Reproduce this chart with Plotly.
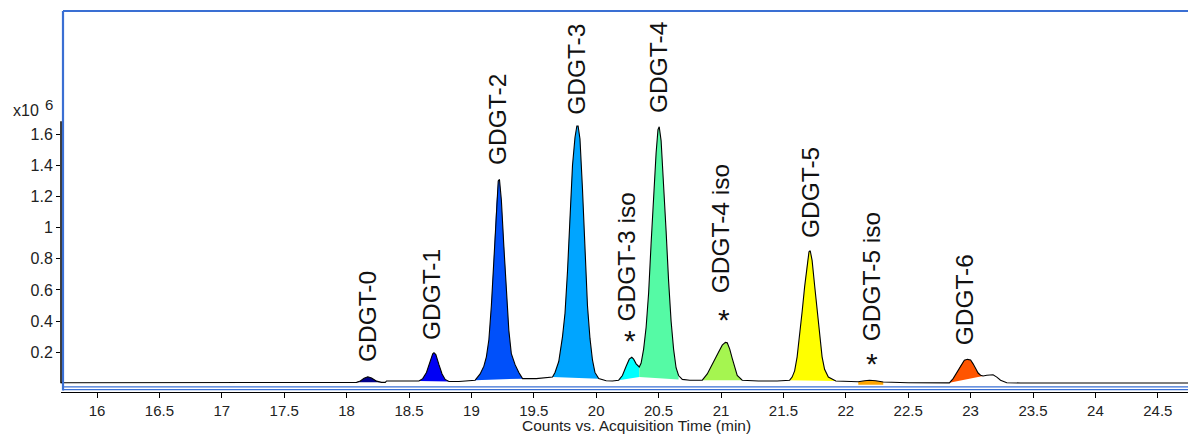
import plotly.graph_objects as go

# ---------------- data ----------------
# chromatogram trace: acquisition time (min) and counts (x10^6)
time_min = [
    15.71, 16.50, 17.50, 18.06,
    18.08, 18.11, 18.14, 18.17, 18.20, 18.24, 18.28,
    18.31, 18.32,
    18.58, 18.61, 18.64, 18.665, 18.69, 18.70, 18.715, 18.74, 18.765, 18.79, 18.82,
    18.90,
    19.03, 19.07, 19.10, 19.12, 19.14, 19.16, 19.18, 19.20, 19.215, 19.225, 19.24,
    19.26, 19.28, 19.30, 19.32, 19.35, 19.38, 19.41,
    19.52,
    19.65, 19.67, 19.70, 19.73, 19.75, 19.77, 19.79, 19.81, 19.83, 19.845, 19.855,
    19.87, 19.89, 19.91, 19.93, 19.95, 19.97, 19.99, 20.02,
    20.08, 20.13,
    20.18, 20.21, 20.24, 20.265, 20.285, 20.30, 20.32, 20.345,
    20.36, 20.38, 20.40, 20.42, 20.44, 20.46, 20.48, 20.495, 20.505, 20.52, 20.54,
    20.56, 20.58, 20.60, 20.62, 20.64, 20.66,
    20.69, 20.75,
    20.85, 20.89, 20.92, 20.95, 20.98, 21.01, 21.035, 21.05, 21.07, 21.09, 21.11,
    21.13, 21.17,
    21.30, 21.45,
    21.55, 21.57, 21.59, 21.61, 21.63, 21.65, 21.67, 21.69, 21.705, 21.715, 21.73,
    21.75, 21.77, 21.79, 21.81, 21.83, 21.86, 21.92,
    22.00,
    22.10, 22.15, 22.19, 22.24, 22.30,
    22.50,
    22.83, 22.86, 22.89, 22.92, 22.95, 22.975, 23.00, 23.02, 23.04, 23.06, 23.08, 23.10,
    23.13, 23.16, 23.18, 23.21, 23.24, 23.29, 23.40, 24.81,
]
counts_e6 = [
    0.004, 0.004, 0.004, 0.005,
    0.006, 0.015, 0.033, 0.042, 0.034, 0.014, 0.006,
    0.006, 0.015,
    0.015, 0.030, 0.070, 0.130, 0.190, 0.197, 0.185, 0.120, 0.060, 0.025, 0.012,
    0.012,
    0.020, 0.060, 0.110, 0.170, 0.280, 0.500, 0.810, 1.150, 1.300, 1.310, 1.180,
    0.880, 0.570, 0.340, 0.190, 0.120, 0.070, 0.030,
    0.030,
    0.040, 0.070, 0.140, 0.300, 0.450, 0.720, 1.080, 1.400, 1.580, 1.654, 1.654,
    1.570, 1.250, 0.850, 0.500, 0.290, 0.150, 0.070, 0.030,
    0.016, 0.015,
    0.020, 0.050, 0.110, 0.155, 0.167, 0.155, 0.125, 0.105,
    0.130, 0.220, 0.360, 0.580, 0.900, 1.220, 1.480, 1.630, 1.649, 1.560, 1.300,
    0.980, 0.660, 0.400, 0.220, 0.100, 0.050,
    0.025, 0.020,
    0.020, 0.060, 0.110, 0.160, 0.200, 0.245, 0.263, 0.260, 0.220, 0.160, 0.100,
    0.050, 0.020,
    0.015, 0.015,
    0.020, 0.040, 0.080, 0.170, 0.300, 0.460, 0.620, 0.770, 0.845, 0.852, 0.790,
    0.630, 0.460, 0.300, 0.170, 0.090, 0.040, 0.015,
    0.012,
    0.010, 0.016, 0.020, 0.016, 0.008,
    0.004,
    0.003, 0.030, 0.070, 0.115, 0.148, 0.154, 0.150, 0.125, 0.090, 0.066, 0.052, 0.047,
    0.052, 0.056, 0.055, 0.040, 0.020, 0.004, 0.002, 0.002,
]

# integrated peaks
peak_labels = ["GDGT-0", "GDGT-1", "GDGT-2", "GDGT-3", "GDGT-3 iso",
               "GDGT-4", "GDGT-4 iso", "GDGT-5", "GDGT-5 iso", "GDGT-6"]
peak_marked = [False, False, False, False, True, False, True, False, True, False]
peak_start = [18.08, 18.58, 19.03, 19.65, 20.18, 20.345, 20.85, 21.55, 22.10, 22.83]
peak_end = [18.28, 18.82, 19.41, 20.02, 20.345, 20.66, 21.17, 21.92, 22.30, 23.10]
base_start = [0.006, 0.015, 0.020, 0.040, 0.020, 0.040, 0.020, 0.020, -0.010, 0.003]
base_end = [0.006, 0.012, 0.030, 0.030, 0.040, 0.025, 0.020, 0.015, -0.010, 0.047]
peak_colors = ["#00008C", "#0000F5", "#0050FA", "#00A5FF", "#00FFFF",
               "#55FAA5", "#A5F550", "#FFFF00", "#FFA500", "#FF5500"]

x_ticks = [16, 16.5, 17, 17.5, 18, 18.5, 19, 19.5, 20, 20.5, 21, 21.5, 22, 22.5,
           23, 23.5, 24, 24.5]
y_ticks = [0.2, 0.4, 0.6, 0.8, 1.0, 1.2, 1.4, 1.6]
y_tick_text = ["0.2", "0.4", "0.6", "0.8", "1", "1.2", "1.4", "1.6"]
x_title = "Counts vs. Acquisition Time (min)"

# ---------------- label placement (pixels) ----------------
label_gap_px = [13, 11, 12.5, 9.5, 34, 11.5, 47, 10.5, 37, 12]
label_dx_px = [-1, -3, -2, 0, -5, -1, -4, 0, 2, -3]
star_gap_px = [0, 0, 0, 0, 19, 0, 25, 0, 18.5, 0]
star_dx_px = [0, 0, 0, 0, -2, 0, -1, 0, 2, 0]

# ---------------- figure geometry ----------------
BODY = 8                      # default page margin around the plot div
W, H = 1196, 434
PLOT_L, PLOT_T, PLOT_B = 61, 11, 392   # desired plot area in page pixels
ML, MT = PLOT_L - BODY, PLOT_T - BODY
MB = H - (PLOT_B - BODY)
MR = 0
PW, PH = W - ML - MR, H - MT - MB
PX_PER_MIN = 124.8
PX_PER_UNIT = 155.6
X0 = 16 - (97 - PLOT_L) / PX_PER_MIN
X_RANGE = [X0, X0 + PW / PX_PER_MIN]
ZERO_PX = 383.3
Y_RANGE = [-(PLOT_B - ZERO_PX) / PX_PER_UNIT, (ZERO_PX - PLOT_T) / PX_PER_UNIT]


def px(xp):
    return (xp - PLOT_L) / PW


def py(yp):
    return (PLOT_B - yp) / PH


FONT = "Liberation Sans, Arial, sans-serif"
BLUE = "#3A6FD3"

fig = go.Figure()

for i in range(len(peak_labels)):
    i0 = time_min.index(peak_start[i])
    i1 = time_min.index(peak_end[i])
    xs = time_min[i0:i1 + 1] + [peak_end[i], peak_start[i]]
    ys = counts_e6[i0:i1 + 1] + [base_end[i], base_start[i]]
    fig.add_trace(go.Scatter(x=xs, y=ys, mode="lines", fill="toself",
                             fillcolor=peak_colors[i], line=dict(width=0),
                             hoverinfo="skip", showlegend=False))

fig.add_trace(go.Scatter(x=time_min, y=counts_e6, mode="lines",
                         line=dict(color="#000000", width=1.1),
                         showlegend=False, hoverinfo="x+y"))

# peak labels
for i, lab in enumerate(peak_labels):
    i0 = time_min.index(peak_start[i])
    i1 = time_min.index(peak_end[i])
    seg = counts_e6[i0:i1 + 1]
    k = seg.index(max(seg))
    xa, ya = time_min[i0 + k], seg[k]
    fig.add_annotation(x=xa, y=ya, text=lab, textangle=-90,
                       showarrow=False, xanchor="center", yanchor="bottom",
                       yshift=label_gap_px[i], xshift=label_dx_px[i],
                       font=dict(family=FONT, size=24.5, color="#111111"))
    if peak_marked[i]:
        fig.add_annotation(x=xa, y=ya, text="*", showarrow=False,
                           xanchor="center", yanchor="middle",
                           yshift=star_gap_px[i] - 2, xshift=star_dx_px[i],
                           font=dict(family=FONT, size=30, color="#111111"))

# axis decorations
fig.add_annotation(xref="paper", yref="paper", x=px(26), y=py(110),
                   text="x10", showarrow=False, xanchor="center", yanchor="middle",
                   font=dict(family=FONT, size=16, color="#222222"))
fig.add_annotation(xref="paper", yref="paper", x=px(48.5), y=py(104),
                   text="6", showarrow=False, xanchor="center", yanchor="middle",
                   font=dict(family=FONT, size=15, color="#222222"))
fig.add_annotation(xref="paper", yref="paper", x=px(636), y=py(426),
                   text=x_title, showarrow=False, xanchor="center", yanchor="middle",
                   font=dict(family=FONT, size=15.5, color="#222222"))

# blue frame
fig.add_shape(type="line", xref="paper", yref="paper", x0=px(63), x1=px(63),
              y0=py(390.5), y1=py(11), line=dict(color=BLUE, width=2.2))
fig.add_shape(type="line", xref="paper", yref="paper", x0=px(63), x1=1.02,
              y0=py(11), y1=py(11), line=dict(color=BLUE, width=2.2))
for yb in (386.9, 389.6):
    fig.add_shape(type="line", xref="paper", yref="paper", x0=px(63), x1=1.02,
                  y0=py(yb), y1=py(yb), line=dict(color=BLUE, width=1.4))
# black y axis line spanning the data range
fig.add_shape(type="line", xref="paper", yref="y", x0=0, x1=0, y0=0,
              y1=max(counts_e6) + 0.03, line=dict(color="#000000", width=1.5))

fig.update_layout(
    width=W, height=H, margin=dict(l=ML, r=MR, t=MT, b=MB, pad=0),
    paper_bgcolor="white", plot_bgcolor="white", showlegend=False,
    xaxis=dict(range=X_RANGE, tickvals=x_ticks, ticks="outside", ticklen=5,
               tickcolor="#000000", showline=True, linecolor="#000000", linewidth=1.2,
               showgrid=False, zeroline=False,
               tickfont=dict(family=FONT, size=15, color="#222222")),
    yaxis=dict(range=Y_RANGE, tickvals=y_ticks, ticktext=y_tick_text, ticks="outside",
               ticklen=4, tickcolor="#000000", showline=False, showgrid=False,
               zeroline=False, tickfont=dict(family=FONT, size=16, color="#222222")),
)

fig.write_html("out.html")
